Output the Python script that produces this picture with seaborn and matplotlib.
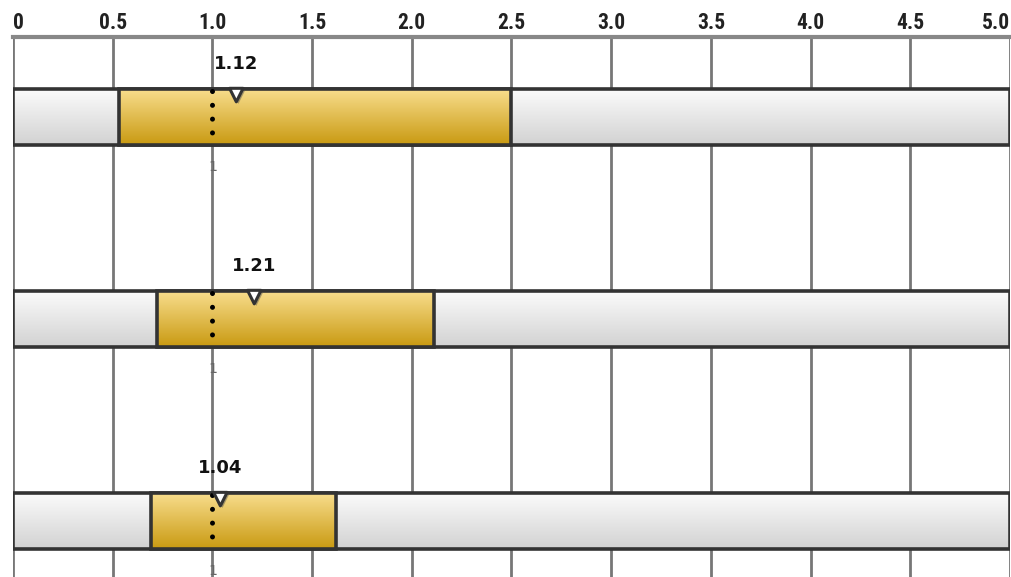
import matplotlib
matplotlib.use("Agg")
import matplotlib.pyplot as plt
import matplotlib.patheffects as pe
from matplotlib import font_manager
import seaborn as sns
import numpy as np
import pandas as pd

# values
rows = ["A", "B", "C"]
range_max = [5.0, 5.0, 5.0]
band_start = [0.53, 0.72, 0.69]
band_end = [2.50, 2.11, 1.62]
actual = [1.12, 1.21, 1.04]
target = [1.0, 1.0, 1.0]
tick_vals = [0, 0.5, 1.0, 1.5, 2.0, 2.5, 3.0, 3.5, 4.0, 4.5, 5.0]
tick_labels = ["0", "0.5", "1.0", "1.5", "2.0", "2.5", "3.0", "3.5", "4.0", "4.5", "5.0"]

sns.set_style("white")
plt.rcParams['font.family'] = ['DejaVu Sans']

# narrow font for the top scale, whatever is installed
installed = {f.name for f in font_manager.fontManager.ttflist}
narrow = [n for n in ['Liberation Sans Narrow', 'DejaVu Sans Condensed',
                      'Roboto Condensed', 'Liberation Sans'] if n in installed]
tick_font = narrow[:1] + ['DejaVu Sans']

fig = plt.figure(figsize=(10.12, 5.77), dpi=100)
ax = fig.add_axes([13 / 1012, 0, 997 / 1012, 540 / 577])

bar_h = 0.277
df = pd.DataFrame({"row": rows, "max": range_max})
sns.barplot(data=df, y="row", x="max", orient="h", width=bar_h, ax=ax,
            color="#dddddd", edgecolor="#333333", linewidth=2.6, zorder=3)
gray_patches = list(ax.patches)

ypos = np.arange(len(rows))
gold = ax.barh(ypos, np.array(band_end) - np.array(band_start), left=band_start,
               height=bar_h, color="#e0b440", edgecolor="#333333", linewidth=2.6, zorder=4)


def gradient_fill(patch, top, bottom, z):
    x0, y0 = patch.get_x(), patch.get_y()
    w, h = patch.get_width(), patch.get_height()
    grad = np.linspace(0, 1, 64).reshape(-1, 1)
    c0 = np.array(matplotlib.colors.to_rgb(top))
    c1 = np.array(matplotlib.colors.to_rgb(bottom))
    img = c0 + (c1 - c0) * grad[:, :, None]
    im = ax.imshow(img, extent=[x0, x0 + w, y0 + h, y0], aspect="auto",
                   zorder=z, interpolation="bilinear")
    im.set_clip_path(patch)
    patch.set_facecolor("none")


for p in gray_patches:
    gradient_fill(p, "#fbfbfb", "#d2d2d2", 2.9)
for p in gold:
    gradient_fill(p, "#f8dd8c", "#c99a12", 3.9)

# target dotted lines
ax.vlines(target, ypos - bar_h / 2 + 0.012, ypos + bar_h / 2 - 0.02, colors="black",
          linewidth=3.6, linestyles=(0, (0.01, 2.75)), capstyle="round", zorder=6)

# actual markers + labels
ax.scatter(actual, ypos - bar_h / 2 + 0.03, marker="v", s=95, facecolor="white",
           edgecolor="#333333", linewidth=2.2, zorder=7,
           path_effects=[pe.SimplePatchShadow(offset=(1.5, -1.5), alpha=0.45), pe.Normal()])
for y, v in zip(ypos, actual):
    ax.text(v, y - bar_h / 2 - 0.078, f"{v:.2f}", ha="center", va="bottom",
            fontsize=13, fontweight="bold", color="#111111", zorder=8)
    ax.text(1.0, y + bar_h / 2 + 0.11, "1", ha="center", va="center",
            fontsize=10, color="#666666", zorder=1)

ax.set_xlim(0, 5.0)
ax.set_ylim(2 + 0.277, -0.396)
ax.xaxis.tick_top()
ax.set_xticks(tick_vals)
labels = ax.set_xticklabels(tick_labels, fontsize=15.5, fontweight="bold",
                            family=tick_font, color="#222222")
labels[0].set_horizontalalignment("left")
labels[-1].set_horizontalalignment("right")
ax.tick_params(axis="x", length=0, pad=2)
ax.set_yticks([])
ax.set_xlabel("")
ax.set_ylabel("")
ax.grid(axis="x", color="#777777", linewidth=2, zorder=0)
ax.set_axisbelow(True)
for s in ["left", "right", "bottom"]:
    ax.spines[s].set_visible(False)
ax.spines["top"].set_color("#888888")
ax.spines["top"].set_linewidth(3)

fig.savefig("out.png", dpi=100)
